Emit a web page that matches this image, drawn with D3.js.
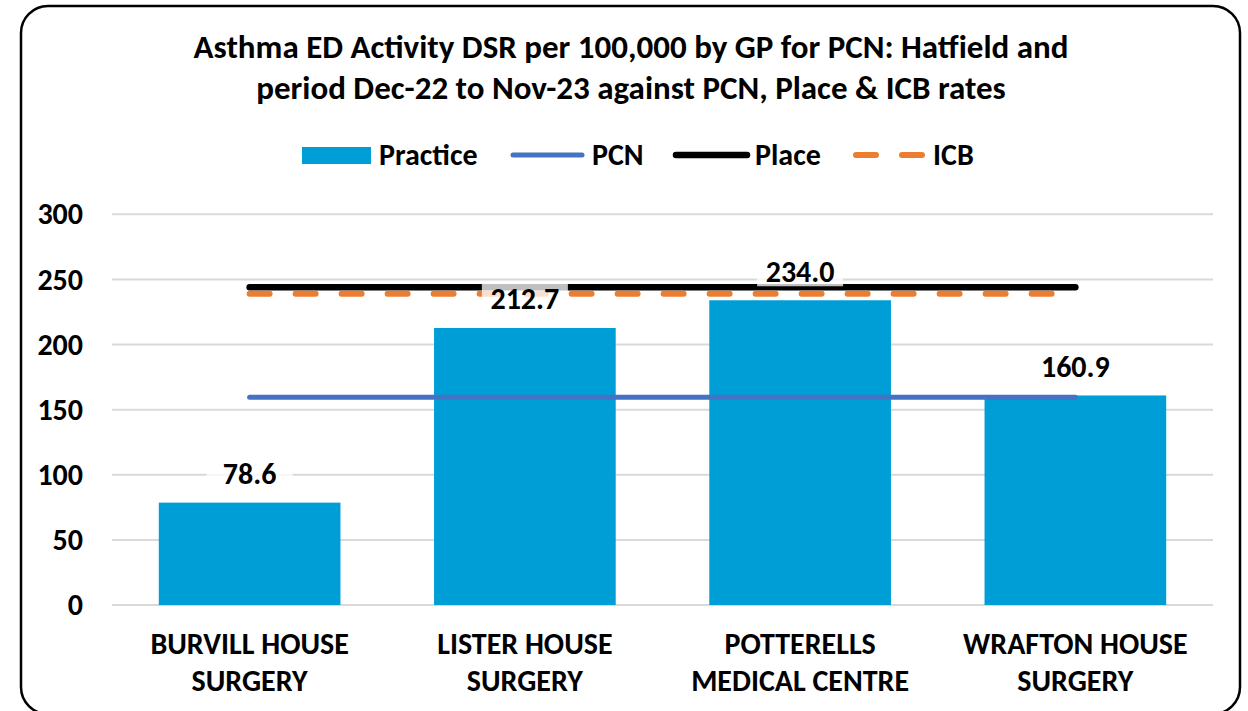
<!DOCTYPE html>
<html>
<head>
<meta charset="utf-8">
<script src="https://cdn.jsdelivr.net/npm/d3@7"></script>
<style>
  body { margin: 0; background: #fff; }
  svg { display: block; font-family: Carlito, "Liberation Sans Narrow", "Open Sans", sans-serif; font-weight: bold; }
</style>
</head>
<body>
<svg width="1248" height="711"></svg>
<script>
var practices = [["BURVILL HOUSE", "SURGERY"], ["LISTER HOUSE", "SURGERY"],
    ["POTTERELLS", "MEDICAL CENTRE"], ["WRAFTON HOUSE", "SURGERY"]];
var practiceRates = [78.6, 212.7, 234.0, 160.9];
var pcnRate = [159.5, 159.5, 159.5, 159.5];
var placeRate = [244.0, 244.0, 244.0, 244.0];
var icbRate = [239.0, 239.0, 239.0, 239.0];
var yTicks = [0, 50, 100, 150, 200, 250, 300];

var svg = d3.select('svg');

// chart frame
svg.append("rect")
    .attr("x", 21).attr("y", 6)
    .attr("width", 1219).attr("height", 708)
    .attr("rx", 27)
    .attr("fill", "#fff")
    .attr("stroke", "#000")
    .attr("stroke-width", 2.5);

svg.append("text")
    .attr("x", 631).attr("y", 58)
    .attr("text-anchor", "middle")
    .style("font-size", "33px")
    .text("Asthma ED Activity DSR per 100,000 by GP for PCN: Hatfield and");
svg.append("text")
    .attr("x", 631).attr("y", 99)
    .attr("text-anchor", "middle")
    .style("font-size", "33px")
    .text("period Dec-22 to Nov-23 against PCN, Place & ICB rates");

var keys = practices.map(function(d) { return d.join(" "); });

var x = d3.scaleBand()
    .domain(keys)
    .range([112, 1213])
    .paddingInner(0.34)
    .paddingOuter(0.17);

var y = d3.scaleLinear()
    .domain([0, 300])
    .range([605, 214.3]);

// gridlines
svg.append("g")
    .selectAll("line")
    .data(yTicks)
    .enter().append("line")
    .attr("x1", 112).attr("x2", 1213)
    .attr("y1", function(d) { return y(d); })
    .attr("y2", function(d) { return y(d); })
    .style("stroke", "#d9d9d9")
    .style("stroke-width", 2);

var yAxis = svg.append("g")
    .attr("transform", "translate(112,0)")
    .call(d3.axisLeft(y).tickValues(yTicks).tickSize(0).tickPadding(29));
yAxis.select(".domain").remove();
yAxis.selectAll("text")
    .style("font-size", "30px")
    .style("font-family", 'Carlito, "Liberation Sans Narrow", "Open Sans", sans-serif')
    .style("font-weight", "bold")
    .attr("fill", "#000");

// bars
svg.append("g")
    .selectAll("rect")
    .data(practiceRates)
    .enter().append("rect")
    .attr("x", function(d, i) { return x(keys[i]); })
    .attr("y", function(d) { return y(d); })
    .attr("width", x.bandwidth())
    .attr("height", function(d) { return y(0) - y(d); })
    .attr("fill", "#009ed6");

// reference lines
function refLine(vals, color, w, dash) {
    var line = d3.line()
        .x(function(d, i) { return x(keys[i]) + x.bandwidth() / 2; })
        .y(function(d) { return y(d); });
    svg.append("path")
        .datum(vals)
        .attr("d", line)
        .attr("fill", "none")
        .attr("stroke", color)
        .attr("stroke-width", w)
        .attr("stroke-linecap", "round")
        .attr("stroke-dasharray", dash || null);
}
refLine(pcnRate, "#4472c4", 5);
refLine(placeRate, "#000", 6.5);
refLine(icbRate, "#ed7d31", 6, "20,26");

// data labels
var lbl = svg.append("g")
    .selectAll("g")
    .data(practiceRates)
    .enter().append("g")
    .attr("transform", function(d, i) {
        return "translate(" + (x(keys[i]) + x.bandwidth() / 2) + "," + (y(d) - 29) + ")";
    });
lbl.append("rect")
    .attr("x", -43).attr("y", -15)
    .attr("width", 86).attr("height", 30)
    .attr("fill", "#fff")
    .attr("opacity", 0.75);
lbl.append("text")
    .attr("text-anchor", "middle")
    .attr("dy", "0.35em")
    .style("font-size", "30px")
    .text(function(d) { return d.toFixed(1); });

// category labels
var cat = svg.append("g")
    .selectAll("text")
    .data(practices)
    .enter().append("text")
    .attr("text-anchor", "middle")
    .attr("y", 654)
    .style("font-size", "30px");
cat.append("tspan")
    .attr("x", function(d, i) { return x(keys[i]) + x.bandwidth() / 2; })
    .text(function(d) { return d[0]; });
cat.append("tspan")
    .attr("x", function(d, i) { return x(keys[i]) + x.bandwidth() / 2; })
    .attr("dy", 37)
    .text(function(d) { return d[1]; });

// legend
var lg = svg.append("g").style("font-size", "30px");
lg.append("rect").attr("x", 302).attr("y", 147).attr("width", 69).attr("height", 17).attr("fill", "#009ed6");
lg.append("text").attr("x", 379).attr("y", 165).text("Practice");
lg.append("line").attr("x1", 513).attr("x2", 582).attr("y1", 155).attr("y2", 155)
    .attr("stroke", "#4472c4").attr("stroke-width", 5).attr("stroke-linecap", "round");
lg.append("text").attr("x", 592).attr("y", 165).text("PCN");
lg.append("line").attr("x1", 676).attr("x2", 747).attr("y1", 155).attr("y2", 155)
    .attr("stroke", "#000").attr("stroke-width", 6.5).attr("stroke-linecap", "round");
lg.append("text").attr("x", 755).attr("y", 165).text("Place");
lg.append("line").attr("x1", 856).attr("x2", 922).attr("y1", 155).attr("y2", 155)
    .attr("stroke", "#ed7d31").attr("stroke-width", 6).attr("stroke-linecap", "round")
    .attr("stroke-dasharray", "20,26");
lg.append("text").attr("x", 933).attr("y", 165).text("ICB");
</script>
</body>
</html>
